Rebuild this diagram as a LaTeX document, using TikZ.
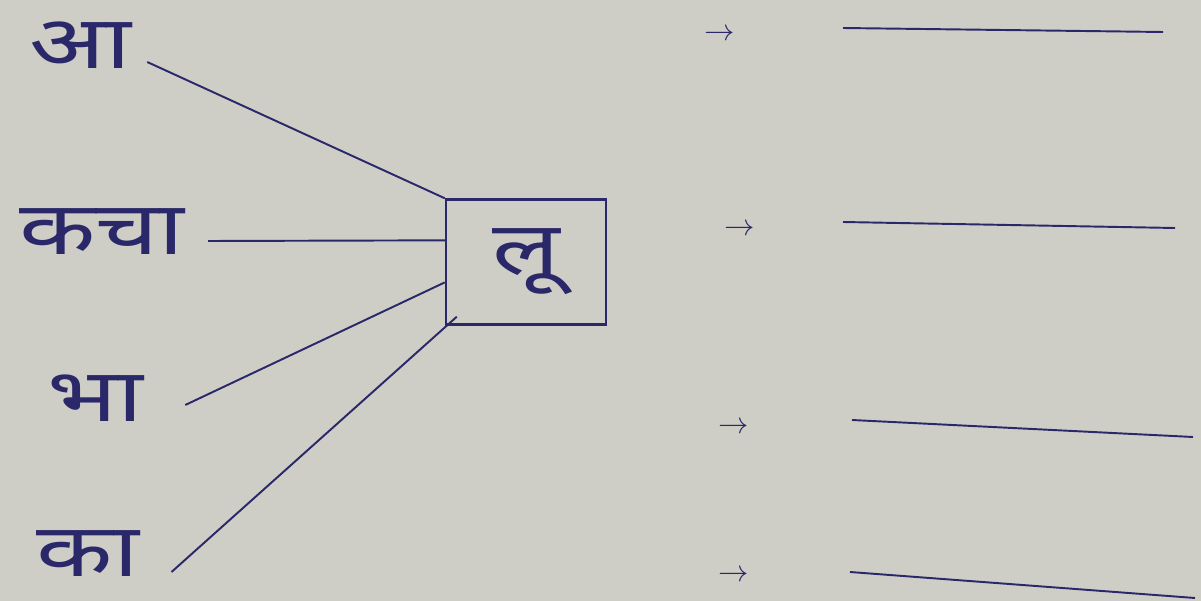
\documentclass[tikz,border=0pt]{standalone}
\usepackage{fontspec}
\usepackage{tikz}
\usetikzlibrary{calc}
\newfontfamily\hindi[Script=Devanagari, FakeStretch=1.35]{Noto Sans}
\definecolor{ink}{RGB}{42,40,104}
\definecolor{paper}{RGB}{206,206,199}

\begin{document}
\begin{tikzpicture}[x=0.02cm, y=-0.02cm,
    inkline/.style={draw=ink, line width=1.1pt},
    word/.style={text=ink, font=\hindi\fontsize{42}{50}\selectfont, inner sep=0pt},
    wordbox/.style={draw=ink, line width=1.4pt, minimum width=3.2cm, minimum height=2.5cm},
    tick/.style={text=ink, font=\LARGE}]

    % --- paper ---
    \fill[paper] (0,0) rectangle (1201,601);
    \useasboundingbox (0,0) rectangle (1201,601);

    % --- word parts ---
    \node[word] (aa) at (80,45) {आ};
    \node[word] (kacha) at (102,232) {कचा};
    \node[word] (bha) at (95,398) {भा};
    \node[word] (ka) at (88,554) {का};

    % --- box ---
    \node[word, wordbox] (lu) at (526,262) {लू};

    % --- connectors ---
    \draw[inkline] ($(aa.east)+(16,17)$) -- (lu.north west);
    \draw[inkline] ($(kacha.east)+(23,9)$) -- ($(lu.north west)!0.33!(lu.south west)$);
    \draw[inkline] ($(bha.east)+(42,7)$) -- ($(lu.north west)!0.66!(lu.south west)$);
    \draw[inkline] ($(ka.east)+(32,18)$) -- ($(lu.south west)+(12,-9)$);

    % --- answers ---
    \node[tick] (t1) at (720,35) {$\rightarrow$};
    \node[tick] (t2) at (740,230) {$\rightarrow$};
    \node[tick] (t3) at (734,428) {$\rightarrow$};
    \node[tick] (t4) at (734,576) {$\rightarrow$};

    \coordinate (a1) at (843,28);  \coordinate (b1) at (1163,32);
    \coordinate (a2) at (843,222); \coordinate (b2) at (1175,228);
    \coordinate (a3) at (852,420); \coordinate (b3) at (1193,437);
    \coordinate (a4) at (850,572); \coordinate (b4) at (1195,598);
    \foreach \i in {1,2,3,4} {
        \draw[inkline] (a\i) -- (b\i);
    }

\end{tikzpicture}
\end{document}
